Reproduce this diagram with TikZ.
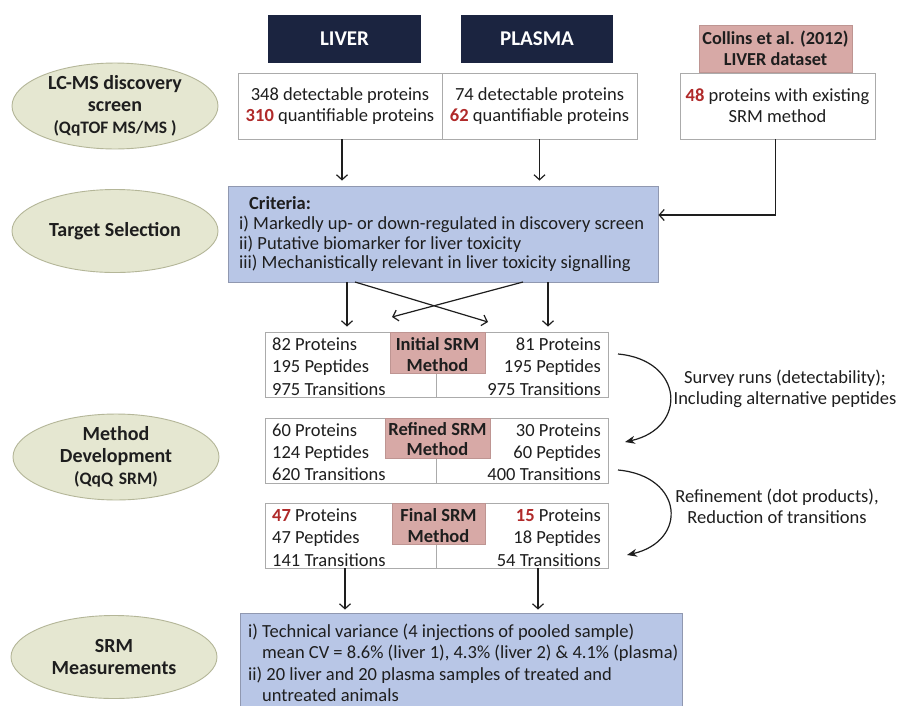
\documentclass[tikz,border=0pt]{standalone}
\usepackage{fontspec}
\setmainfont{Carlito}
\usetikzlibrary{arrows.meta,shapes.geometric}
\definecolor{navy}{HTML}{1B2440}
\definecolor{pinkf}{HTML}{D7A9A6}
\definecolor{pinkd}{HTML}{BE9592}
\definecolor{bluef}{HTML}{B8C6E6}
\definecolor{blued}{HTML}{9098B0}
\definecolor{ellf}{HTML}{E5E7D1}
\definecolor{elld}{HTML}{B4B698}
\definecolor{redn}{HTML}{B02A2A}
\definecolor{boxd}{HTML}{ABABAB}
\definecolor{ink}{HTML}{1E1E1E}
\newcommand{\rn}[1]{\textcolor{redn}{\textbf{#1}}}
\begin{document}
\begin{tikzpicture}[x=1pt,y=-1pt,
  stage/.style={ellipse,draw=elld,fill=ellf,line width=0.9pt,minimum width=206pt,minimum height=83pt,inner sep=0pt,align=center,text=ink,font=\fontsize{20}{22}\selectfont\bfseries},
  hdr/.style={rectangle,fill=navy,text=white,inner sep=0pt,font=\fontsize{21}{24}\selectfont\bfseries},
  pinkbox/.style={rectangle,fill=pinkf,draw=pinkd,line width=0.6pt,inner sep=0pt,align=center,text=ink,font=\fontsize{18.5}{21}\selectfont\bfseries},
  databox/.style={rectangle,draw=boxd,fill=white,line width=0.9pt,inner sep=0pt},
  bluebox/.style={rectangle,draw=blued,fill=bluef,line width=0.9pt,inner sep=0pt},
  txt/.style={inner sep=0pt,text=ink,font=\fontsize{18.5}{21}\selectfont},
  arr/.style={draw=ink,line width=1.2pt,-{Straight Barb[length=5pt,width=11pt,line width=1.2pt]}},
  carr/.style={draw=ink,line width=1.2pt,-{Stealth[length=10pt,width=8pt]}}
]
\useasboundingbox (0,0) rectangle (898,705);
\fill[white] (0,0) rectangle (898,705);

% stage ellipses
\node[stage] (e1) at (115,106) {LC-MS discovery\\screen\\{\fontsize{17.5}{19}\selectfont (QqTOF MS/MS )}};
\node[stage] (e2) at (115,231) {Target Selection};
\node[stage] (e3) at (116,457) {Method\\Development\\{\fontsize{17.5}{19}\selectfont (QqQ\,\,SRM)}};
\node[stage] (e4) at (114,657) {SRM\\Measurements};

% headers
\node[hdr,minimum width=153pt,minimum height=48pt] (liverh) at (344.5,39) {LIVER};
\node[hdr,minimum width=152pt,minimum height=48pt] (plasmah) at (537,39) {PLASMA};
\node[pinkbox,minimum width=153pt,minimum height=47pt,font=\fontsize{18.3}{21}\selectfont\bfseries] (collh) at (775.5,48.5) {Collins et al. (2012)\\LIVER dataset};

% discovery data boxes
\node[databox,minimum width=204pt,minimum height=66pt] (liverd) at (340,106) {};
\node[databox,minimum width=195pt,minimum height=66pt] (plasmad) at (539.5,106) {};
\node[databox,minimum width=195pt,minimum height=66pt] (colld) at (777.5,106) {};
\node[txt,align=center] (liverdt) at (liverd.center) {348 detectable proteins\\\rn{310} quantifiable proteins};
\node[txt,align=center] (plasmadt) at (plasmad.center) {74 detectable proteins\\\rn{62} quantifiable proteins};
\node[txt,align=center] (colldt) at (colld.center) {\rn{48} proteins with existing\\SRM method};

% criteria box
\node[bluebox,minimum width=430pt,minimum height=96pt] (crit) at (443,234) {};
\node[txt,anchor=west,font=\fontsize{18.5}{21}\selectfont\bfseries] (crith) at (249,203) {Criteria:};
\node[txt,anchor=west,align=left,font=\fontsize{18.5}{19.7}\selectfont] (critt) at (239,244) {i) Markedly up- or down-regulated in discovery screen\\ii) Putative biomarker for liver toxicity\\iii) Mechanistically relevant in liver toxicity signalling};

% SRM method boxes
\node[databox,minimum width=343pt,minimum height=65pt] (init) at (436.5,364.5) {};
\node[databox,minimum width=343pt,minimum height=65pt] (refd) at (436.5,450.5) {};
\node[databox,minimum width=343pt,minimum height=65pt] (fin) at (436.5,535.5) {};
\draw[boxd,line width=0.9pt] (init.south) -- ++(0,-25);
\draw[boxd,line width=0.9pt] (refd.south) -- ++(0,-26);
\draw[boxd,line width=0.9pt] (fin.south) -- ++(0,-25);
\node[pinkbox,minimum width=95pt,minimum height=41pt] (initl) at (437.5,352.5) {};
\node[pinkbox,minimum width=105pt,minimum height=40pt] (refl) at (437.5,438) {};
\node[pinkbox,minimum width=93pt,minimum height=41pt] (finl) at (438.5,523.5) {};
\node[pinkbox,fill=none,draw=none,font=\fontsize{18.5}{21}\selectfont\bfseries] (initlt) at (437.5,354.5) {Initial SRM\\Method};
\node[pinkbox,fill=none,draw=none,font=\fontsize{18.5}{20}\selectfont\bfseries] (reflt) at (437.5,439.5) {Refined SRM\\Method};
\node[pinkbox,fill=none,draw=none,font=\fontsize{18.5}{21}\selectfont\bfseries] (finlt) at (438.5,526) {Final SRM\\Method};

\node[txt,anchor=west,align=left,font=\fontsize{18.5}{22.5}\selectfont] (initL) at (272,366.5) {82 Proteins\\195 Peptides\\975 Transitions};
\node[txt,anchor=east,align=right,font=\fontsize{18.5}{22.5}\selectfont] (initR) at (601,366.5) {81 Proteins\\195 Peptides\\975 Transitions};
\node[txt,anchor=west,align=left,font=\fontsize{18.5}{22}\selectfont] (refL) at (272,452) {60 Proteins\\124 Peptides\\620 Transitions};
\node[txt,anchor=east,align=right,font=\fontsize{18.5}{22}\selectfont] (refR) at (601,452) {30 Proteins\\60 Peptides\\400 Transitions};
\node[txt,anchor=west,align=left,font=\fontsize{18.5}{22.5}\selectfont] (finL) at (272,537.5) {\rn{47} Proteins\\47 Peptides\\141 Transitions};
\node[txt,anchor=east,align=right,font=\fontsize{18.5}{22.5}\selectfont] (finR) at (601,537.5) {\rn{15} Proteins\\18 Peptides\\54 Transitions};

% side labels
\node[txt,align=center] (survey) at (785,389) {Survey runs (detectability);\\Including alternative peptides};
\node[txt,align=center] (refine) at (777,506) {Refinement (dot products),\\Reduction of transitions};

% SRM measurement box
\node[bluebox,minimum width=442pt,minimum height=96pt] (srm) at (461,661) {};
\node[txt,anchor=west,align=left,font=\fontsize{18.5}{21.5}\selectfont] (srmt) at (248,663) {i) Technical variance (4 injections of pooled sample)\\\hspace*{14pt}mean CV = 8.6\% (liver 1), 4.3\% (liver 2) \& 4.1\% (plasma)\\ii) 20 liver and 20 plasma samples of treated and\\\hspace*{14pt}untreated animals};

% connectors
\draw[arr,shorten >=5pt] (liverd.south) ++(2,0) coordinate (la) -- (la |- crit.north);
\draw[arr,shorten >=5pt] (plasmad.south) -- (plasmad.south |- crit.north);
\coordinate (cturn) at (0,215);
\draw[arr] (colld.south) ++(-2,0) coordinate (ca) |- (crit.east |- cturn);

\coordinate (d1) at (347,282);
\coordinate (d2) at (355,282);
\coordinate (d3) at (523,282);
\coordinate (d4) at (548,282);
\coordinate (t2) at (488,322);
\coordinate (t3) at (392,317);
\draw[arr,shorten >=5pt] (d1) -- (d1 |- init.north);
\draw[arr,shorten >=5pt] (d4) -- (d4 |- init.north);
\draw[arr] (d2) -- (t2);
\draw[arr] (d3) -- (t3);

\coordinate (c1s) at (618,354);
\coordinate (c1e) at (625,442);
\coordinate (c2s) at (618,470);
\coordinate (c2e) at (627,555);
\draw[carr] (c1s) .. controls (684,360) and (688,428) .. (c1e);
\draw[carr] (c2s) .. controls (684,476) and (688,541) .. (c2e);

\coordinate (f1) at (345,568);
\coordinate (f2) at (538,568);
\draw[arr,shorten >=3pt] (f1) -- (f1 |- srm.north);
\draw[arr,shorten >=3pt] (f2) -- (f2 |- srm.north);
\end{tikzpicture}
\end{document}
